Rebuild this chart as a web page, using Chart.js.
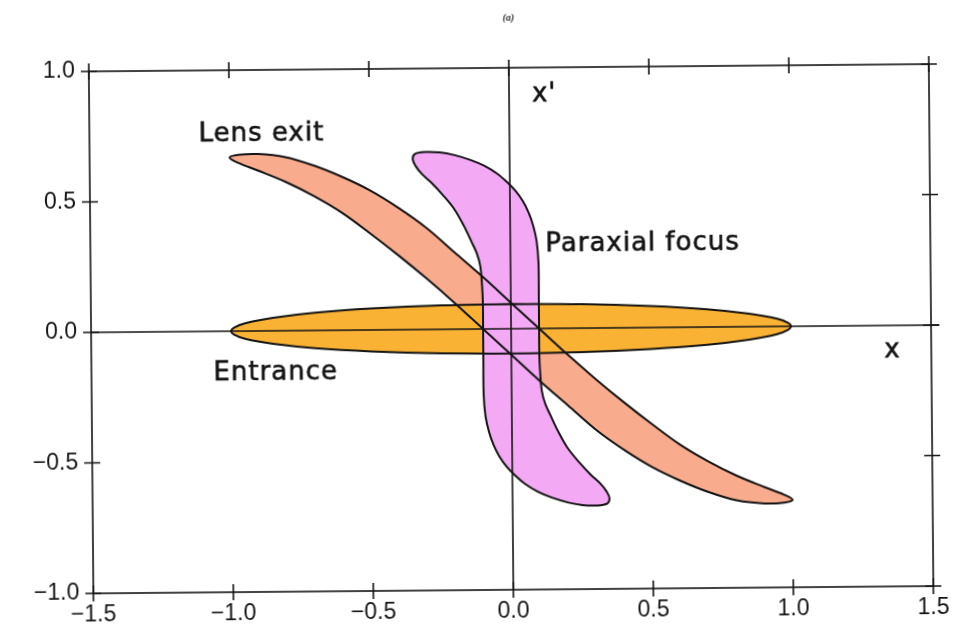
<!DOCTYPE html>
<html>
<head>
<meta charset="utf-8">
<script src="https://cdn.jsdelivr.net/npm/chart.js@4.4.1/dist/chart.umd.min.js"></script>
<style>
  html, body { margin: 0; padding: 0; background: #fff; }
  #wrap { width: 965px; height: 636px; transform: rotate(-0.5deg); }
  canvas { display: block; }
</style>
</head>
<body>
<div id="wrap"><canvas id="phase" width="965" height="636"></canvas></div>
<script>
// Axis ticks
const xTicks = [-1.5, -1.0, -0.5, 0.0, 0.5, 1.0, 1.5];
const yTicks = [-1.0, -0.5, 0.0, 0.5, 1.0];

// Beam outlines in phase space, [x, x'] pairs traced around each closed shape
const entrance = [
  [0.00, 0.095], [0.25, 0.092], [0.50, 0.082], [0.70, 0.068], [0.85, 0.050], [0.95, 0.030],
  [0.99, 0.013], [1.00, 0.000], [0.99, -0.013], [0.95, -0.030], [0.85, -0.050], [0.70, -0.068],
  [0.50, -0.082], [0.25, -0.092], [0.00, -0.095], [-0.25, -0.092], [-0.50, -0.082], [-0.70, -0.068],
  [-0.85, -0.050], [-0.95, -0.030], [-0.99, -0.013], [-1.00, 0.000], [-0.99, 0.013], [-0.95, 0.030],
  [-0.85, 0.050], [-0.70, 0.068], [-0.50, 0.082], [-0.25, 0.092], [0.00, 0.095]
];

const lensExit = [
  [0.00, 0.100], [0.10, 0.000], [0.20, -0.100], [0.30, -0.195], [0.40, -0.285], [0.50, -0.370],
  [0.60, -0.450], [0.70, -0.515], [0.80, -0.570], [0.90, -0.615], [0.97, -0.645], [1.00, -0.665],
  [0.97, -0.675], [0.90, -0.678], [0.80, -0.665], [0.70, -0.632], [0.60, -0.588], [0.50, -0.535],
  [0.40, -0.468], [0.30, -0.390], [0.20, -0.295], [0.10, -0.200], [0.00, -0.100], [-0.10, 0.000],
  [-0.20, 0.100], [-0.30, 0.195], [-0.40, 0.285], [-0.50, 0.370], [-0.60, 0.450], [-0.70, 0.515],
  [-0.80, 0.570], [-0.90, 0.615], [-0.97, 0.645], [-1.00, 0.665], [-0.97, 0.675], [-0.90, 0.678],
  [-0.80, 0.665], [-0.70, 0.632], [-0.60, 0.588], [-0.50, 0.535], [-0.40, 0.468], [-0.30, 0.390],
  [-0.20, 0.295], [-0.10, 0.200], [0.00, 0.100]
];

const paraxialFocus = [
  [0.100, 0.100], [0.100, 0.000], [0.100, -0.100], [0.102, -0.160], [0.108, -0.240], [0.120, -0.290],
  [0.138, -0.333], [0.165, -0.395], [0.199, -0.460], [0.240, -0.515], [0.281, -0.563], [0.315, -0.597],
  [0.335, -0.625], [0.346, -0.652], [0.338, -0.673], [0.300, -0.680], [0.250, -0.678], [0.200, -0.668],
  [0.140, -0.648], [0.090, -0.625], [0.045, -0.595], [0.010, -0.562], [-0.020, -0.528], [-0.045, -0.490],
  [-0.066, -0.445], [-0.082, -0.395], [-0.094, -0.335], [-0.100, -0.250], [-0.100, -0.100], [-0.100, 0.000],
  [-0.100, 0.100], [-0.102, 0.160], [-0.108, 0.240], [-0.120, 0.290], [-0.138, 0.333], [-0.165, 0.395],
  [-0.199, 0.460], [-0.240, 0.515], [-0.281, 0.563], [-0.315, 0.597], [-0.335, 0.625], [-0.346, 0.652],
  [-0.338, 0.673], [-0.300, 0.680], [-0.250, 0.678], [-0.200, 0.668], [-0.140, 0.648], [-0.090, 0.625],
  [-0.045, 0.595], [-0.010, 0.562], [0.020, 0.528], [0.045, 0.490], [0.066, 0.445], [0.082, 0.395],
  [0.094, 0.335], [0.100, 0.250], [0.100, 0.100]
];

const shapeLabels = ['Paraxial focus', 'Entrance', 'Lens exit'];

const toPoints = arr => arr.map(([x, y]) => ({ x, y }));
const fmt = v => (v < 0 ? '\u2212' : '') + Math.abs(v).toFixed(1);
const INK = '#141414';

function shape(label, pts, color) {
  return {
    label, data: toPoints(pts), showLine: true, fill: 'shape',
    backgroundColor: color, borderColor: INK, borderWidth: 2,
    pointRadius: 0, tension: 0.35
  };
}

// Frame, crossing tick marks, zero axes and the text annotations
const decorations = {
  id: 'decorations',
  afterDatasetsDraw(chart) {
    const { ctx, chartArea: a, scales: { x, y } } = chart;
    ctx.save();
    ctx.strokeStyle = INK;
    ctx.lineWidth = 1.6;
    ctx.strokeRect(a.left, a.top, a.right - a.left, a.bottom - a.top);
    const t = 8;
    ctx.beginPath();
    xTicks.forEach(v => {
      const px = x.getPixelForValue(v);
      ctx.moveTo(px, a.top - t); ctx.lineTo(px, a.top + t);
      ctx.moveTo(px, a.bottom - t); ctx.lineTo(px, a.bottom + t);
    });
    yTicks.forEach(v => {
      const py = y.getPixelForValue(v);
      ctx.moveTo(a.left - t, py); ctx.lineTo(a.left + t, py);
      ctx.moveTo(a.right - t, py); ctx.lineTo(a.right + t, py);
    });
    ctx.stroke();
    // zero axes
    ctx.lineWidth = 1.6;
    ctx.beginPath();
    const x0 = x.getPixelForValue(0), y0 = y.getPixelForValue(0);
    ctx.moveTo(x0, a.top); ctx.lineTo(x0, a.bottom);
    ctx.moveTo(a.left, y0); ctx.lineTo(x.getPixelForValue(1.53), y0);
    ctx.stroke();

    ctx.fillStyle = INK;
    ctx.lineWidth = 0.6;
    ctx.textBaseline = 'middle';
    ctx.textAlign = 'left';
    ctx.font = '26px "DejaVu Sans"';
    ctx.letterSpacing = '1px';
    const notes = [
      { text: 'Lens exit', x: -1.11, y: 0.755 },
      { text: shapeLabels[0], x: 0.125, y: 0.32 },
      { text: shapeLabels[1], x: -1.064, y: -0.163 },
      { text: "x'", x: 0.082, y: 0.895 },
      { text: 'x', x: 1.332, y: -0.095 }
    ];
    notes.forEach(n => {
      const px = x.getPixelForValue(n.x), py = y.getPixelForValue(n.y);
      ctx.fillText(n.text, px, py);
      ctx.strokeText(n.text, px, py);
    });
    ctx.restore();
  }
};

new Chart(document.getElementById('phase'), {
  type: 'scatter',
  data: {
    datasets: [
      shape(shapeLabels[0], paraxialFocus, '#f4a9f5'),
      shape(shapeLabels[1], entrance, '#f9b233'),
      shape(shapeLabels[2], lensExit, '#f9ab8d')
    ]
  },
  options: {
    responsive: false,
    animation: false,
    devicePixelRatio: 1,
    layout: { padding: { left: 0, right: 34, top: 0, bottom: 0 } },
    plugins: {
      legend: { display: false },
      tooltip: { enabled: false },
      filler: { drawTime: 'beforeDatasetsDraw' },
      title: {
        display: true, fullSize: false, text: '(a)', color: '#333',
        font: { family: 'Liberation Serif', size: 10, style: 'italic' },
        padding: { top: 12, bottom: 44 }
      }
    },
    scales: {
      x: {
        type: 'linear', min: -1.5, max: 1.5,
        afterBuildTicks: s => { s.ticks = xTicks.map(v => ({ value: v })); },
        afterFit: s => { s.height = 46; },
        grid: { display: false, drawTicks: false },
        border: { display: false },
        ticks: {
          callback: fmt, autoSkip: false, maxRotation: 0, padding: 8, color: INK,
          font: { family: 'Liberation Sans', size: 23 }
        }
      },
      y: {
        type: 'linear', min: -1, max: 1,
        afterBuildTicks: s => { s.ticks = yTicks.map(v => ({ value: v })); },
        afterFit: s => { s.width = 91; },
        grid: { display: false, drawTicks: false },
        border: { display: false },
        ticks: {
          callback: fmt, autoSkip: false, padding: 14, color: INK,
          font: { family: 'Liberation Sans', size: 23 }
        }
      }
    }
  },
  plugins: [decorations]
});
</script>
</body>
</html>
